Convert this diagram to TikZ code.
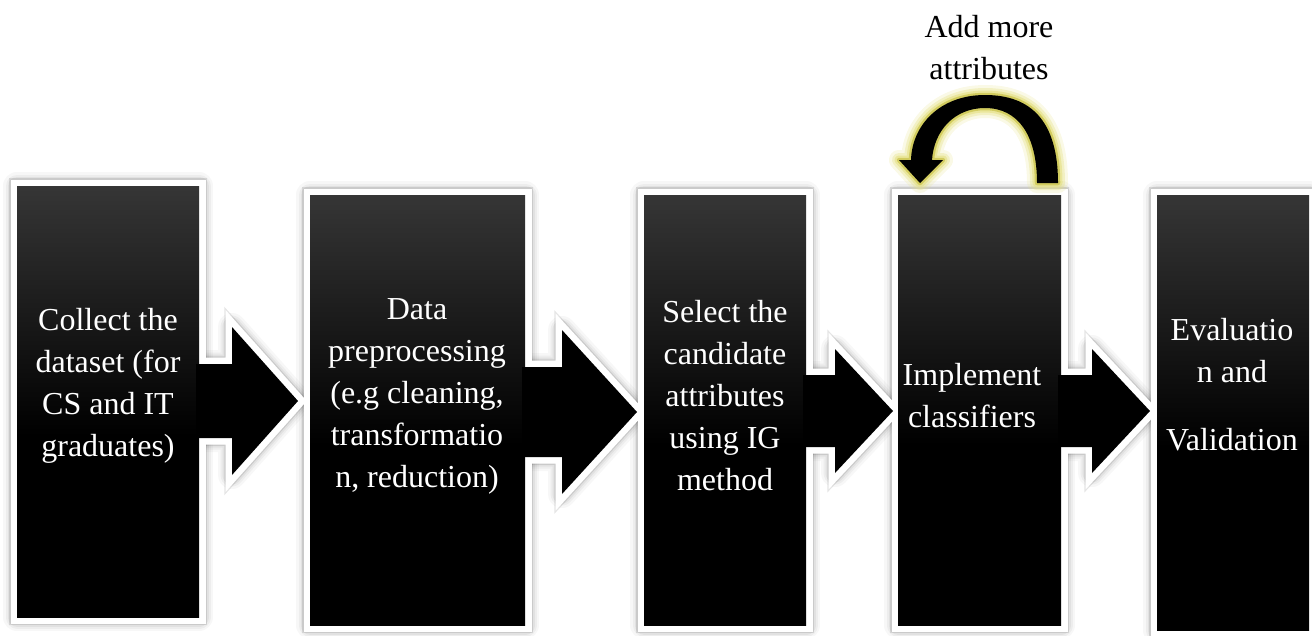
\documentclass[tikz,border=0pt]{standalone}
\usepackage{fontspec}
\setmainfont{Liberation Serif}
\usetikzlibrary{calc}
\pgfdeclarelayer{frames}
\pgfsetlayers{frames,main}
\definecolor{glowyellow}{RGB}{228,224,130}
\definecolor{glowedge}{RGB}{205,198,80}

% dark grey at the top of a stage, pure black from a little above the middle
\pgfdeclareverticalshading{stageshade}{100bp}{%
  color(0bp)=(black); color(46bp)=(black);
  color(75bp)=(black!79); color(100bp)=(black!79)}

\tikzset{
  stagebox/.style={rectangle, inner sep=0pt, outer sep=0pt, draw=none,
    shading=stageshade},
  stagetext/.style={text=white, align=center, inner sep=0pt,
    font=\fontsize{32}{42}\selectfont},
  notetext/.style={text=black, align=center, inner sep=0pt,
    font=\fontsize{32}{42}\selectfont},
  whiteframe/.style={draw=white, line width=13pt, line join=miter},
  softshadow/.style={
    preaction={draw=black, opacity=0.03, line width=28pt, line join=round},
    preaction={draw=black, opacity=0.04, line width=23pt, line join=round},
    preaction={draw=black, opacity=0.05, line width=19pt, line join=round},
    preaction={draw=black, opacity=0.10, line width=15.5pt, line join=miter}},
  arrowfill/.style={fill=black, draw=none},
  loopglow/.style={
    preaction={draw=glowyellow, opacity=0.2, line width=20pt, line join=round},
    preaction={draw=glowyellow, opacity=0.35, line width=14pt, line join=round},
    preaction={draw=glowyellow, opacity=0.6, line width=9pt, line join=round},
    preaction={draw=glowedge, opacity=0.8, line width=4.5pt, line join=round}},
}

% block arrow outline: #1 source, #2 target, #3 centre y, #4 shaft half,
% #5 head half, #6 head length, #7 gap before target
\newcommand\blockarrowpath[7]{%
  ($(#1.east |- 0,#3)+(-3,-#4)$)
  -- ($(#2.west |- 0,#3)+(-#7-#6,-#4)$)
  -- ($(#2.west |- 0,#3)+(-#7-#6,-#5)$)
  -- ($(#2.west |- 0,#3)+(-#7,0)$)
  -- ($(#2.west |- 0,#3)+(-#7-#6,#5)$)
  -- ($(#2.west |- 0,#3)+(-#7-#6,#4)$)
  -- ($(#1.east |- 0,#3)+(-3,#4)$) -- cycle}

\newcommand\arrowA{\blockarrowpath{b1}{b2}{401}{37}{74}{66}{12}}
\newcommand\arrowB{\blockarrowpath{b2}{b3}{412}{45}{82}{75}{7}}
\newcommand\arrowC{\blockarrowpath{b3}{b4}{411}{36}{62}{58}{5}}
\newcommand\arrowD{\blockarrowpath{b4}{b5}{411}{36}{62}{58}{7}}

\begin{document}
\begin{tikzpicture}[x=1pt, y=-1pt]
  \useasboundingbox (0,0) rectangle (1312,635);

  % the five stages
  \node[stagebox, minimum width=182pt, minimum height=431pt] (b1) at (108,401.5) {};
  \node[stagebox, minimum width=215pt, minimum height=430pt] (b2) at (417.5,410) {};
  \node[stagebox, minimum width=162pt, minimum height=430pt] (b3) at (725,410) {};
  \node[stagebox, minimum width=163pt, minimum height=430pt] (b4) at (979.5,410) {};
  \node[stagebox, minimum width=152pt, minimum height=435pt] (b5) at (1233,412.5) {};

  % white frames with their soft shadows, below the black fills
  \begin{pgfonlayer}{frames}
    \foreach \b in {b1,b2,b3,b4,b5}
      \path[softshadow] (\b.north west) rectangle (\b.south east);
    \path[softshadow] \arrowA;
    \path[softshadow] \arrowB;
    \path[softshadow] \arrowC;
    \path[softshadow] \arrowD;
    \foreach \b in {b1,b2,b3,b4,b5}
      \draw[whiteframe] (\b.north west) rectangle (\b.south east);
    \draw[whiteframe] \arrowA;
    \draw[whiteframe] \arrowB;
    \draw[whiteframe] \arrowC;
    \draw[whiteframe] \arrowD;
  \end{pgfonlayer}

  % arrows between the stages
  \fill[arrowfill] \arrowA;
  \fill[arrowfill] \arrowB;
  \fill[arrowfill] \arrowC;
  \fill[arrowfill] \arrowD;

  % loop arrow over the classifier stage
  \begin{scope}[shift={(b4.north west)}]
    \fill[black, loopglow]
      (160,-12) .. controls (160,-75) and (132,-100) .. (87,-100)
      .. controls (42,-100) and (14,-70) .. (13,-35)
      -- (1,-35) -- (22,-12) -- (45,-35) -- (34,-35)
      .. controls (36,-65) and (57,-87) .. (87,-87)
      .. controls (120,-87) and (139,-60) .. (139,-12) -- cycle;
  \end{scope}

  % texts
  \node[stagetext] (t1) at (108,386) {Collect the\\dataset (for\\CS and IT\\graduates)};
  \node[stagetext] (t2) at (417,396) {Data\\preprocessing\\(e.g cleaning,\\transformatio\\n, reduction)};
  \node[stagetext] (t3) at (725,396) {Select the\\candidate\\attributes\\using IG\\method};
  \node[stagetext] (t4) at (972,396) {Implement\\classifiers};
  \node[stagetext] (t5) at (1232,385) {Evaluatio\\n and\\[26pt]Validation};
  \node[notetext] (t6) at (989,48) {Add more\\attributes};
\end{tikzpicture}
\end{document}
